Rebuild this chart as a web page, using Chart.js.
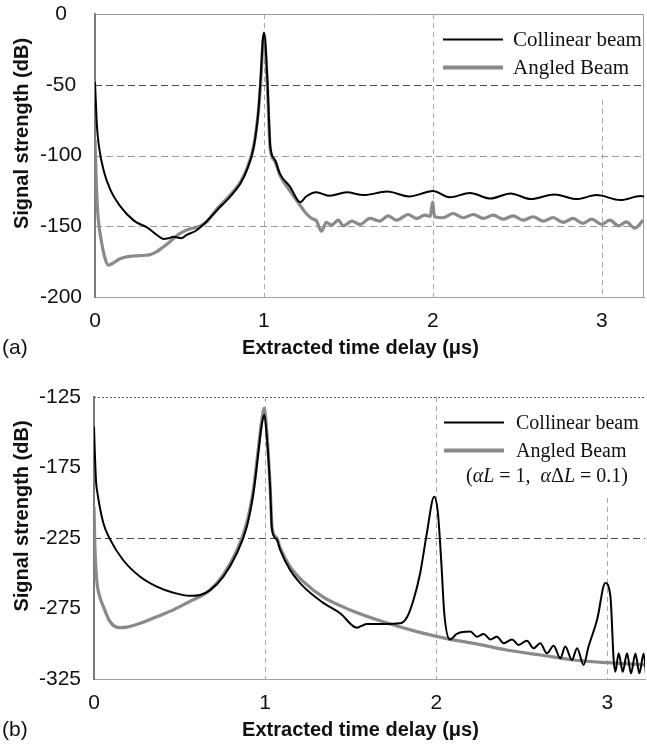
<!DOCTYPE html>
<html><head><meta charset="utf-8">
<script src="https://cdn.jsdelivr.net/npm/chart.js@4.4.1/dist/chart.umd.min.js"></script>
<style>
html,body{margin:0;padding:0;background:#fff;width:647px;height:744px;overflow:hidden;}
#wrapA{position:absolute;left:0;top:0;width:647px;height:362px;}
#wrapB{position:absolute;left:0;top:380px;width:647px;height:364px;}
</style></head><body>
<div id="wrapA"><canvas id="cA" width="647" height="362"></canvas></div>
<div id="wrapB"><canvas id="cB" width="647" height="364"></canvas></div>
<script>
// ---- text / ticks ----
const seriesNames = ['Collinear beam', 'Angled Beam'];
const xTitle = 'Extracted time delay (\u03bcs)';
const yTitle = 'Signal strength (dB)';
const panelLabels = ['(a)', '(b)'];
const xTicks = [0, 1, 2, 3];
const yTicksA = [0, -50, -100, -150, -200];
const yTicksB = [-125, -175, -225, -275, -325];
const noteB = [['(', false], ['\u03b1', true], ['L', true], [' = 1,  ', false], ['\u03b1', true], ['\u0394', false], ['L', true], [' = 0.1)', false]];

// ---- panel (a) data ----
const aCollinearT = [0, 0.012, 0.024, 0.05, 0.09, 0.15, 0.23, 0.31, 0.365, 0.405, 0.435, 0.465, 0.51, 0.545, 0.6, 0.64, 0.72, 0.8, 0.86, 0.9, 0.94, 0.967, 0.978, 1.0, 1.022, 1.03, 1.038, 1.065, 1.095, 1.154, 1.215, 1.25, 1.31, 1.39, 1.49, 1.59, 1.73, 1.86, 1.96, 2.0, 2.1, 2.22, 2.34, 2.46, 2.58, 2.72, 2.85, 2.97, 3.11, 3.23, 3.25];
const aCollinearDb = [-48, -80, -94, -110, -124, -136, -146, -151, -156, -159, -158.5, -157.5, -158.5, -156, -153, -149, -139, -129, -120, -110, -94, -69, -50, -13, -50, -75, -94, -103, -113, -122, -133, -129, -126, -128.5, -126, -128, -125.5, -129, -126, -125, -129.5, -126.5, -130.4, -126.8, -130.8, -127.5, -130.8, -128, -131.5, -128.7, -129];
const aAngledT = [0, 0.008, 0.016, 0.024, 0.04, 0.06, 0.079, 0.1, 0.148, 0.227, 0.3, 0.33, 0.365, 0.4, 0.444, 0.48, 0.52, 0.56, 0.62, 0.66, 0.72, 0.8, 0.86, 0.9, 0.94, 0.967, 0.98, 1.0, 1.02, 1.037, 1.065, 1.095, 1.154, 1.213, 1.25, 1.29, 1.31, 1.34, 1.37, 1.4, 1.44, 1.47, 1.52, 1.57, 1.627, 1.686, 1.736, 1.785, 1.854, 1.903, 1.953, 1.985, 1.998, 2.01, 2.06, 2.12, 2.18, 2.24, 2.298, 2.357, 2.416, 2.475, 2.534, 2.593, 2.653, 2.712, 2.771, 2.83, 2.889, 2.94, 3.0, 3.047, 3.1, 3.146, 3.195, 3.245];
const aAngledDb = [-89, -120, -140, -150, -162, -173, -177.5, -176.5, -173, -171, -170.5, -170, -168, -165, -161, -157, -154, -152, -150, -147, -138, -128, -119, -109, -93, -69, -50, -14, -50, -95, -104, -114, -125, -135, -141, -145, -146, -153.5, -147.3, -149.2, -145.7, -149.7, -146.4, -148.7, -144.5, -146.4, -142.6, -145.7, -141.7, -144.5, -142.2, -143, -133, -143.3, -144, -141, -144, -141.7, -144.5, -142.2, -145, -142.6, -145.7, -143.3, -146.4, -143.8, -147.3, -144.5, -148, -145, -148.7, -145.7, -149.7, -146.9, -151.3, -145.7];

// ---- panel (b) data ----
const bCollinearT = [0, 0.005, 0.012, 0.02, 0.055, 0.094, 0.17, 0.27, 0.367, 0.464, 0.56, 0.62, 0.678, 0.756, 0.834, 0.893, 0.932, 0.96, 0.98, 0.995, 1.013, 1.03, 1.04, 1.068, 1.088, 1.146, 1.224, 1.34, 1.44, 1.536, 1.56, 1.595, 1.69, 1.79, 1.83, 1.867, 1.906, 1.945, 1.988, 2.01, 2.03, 2.047, 2.08, 2.12, 2.199, 2.238, 2.277, 2.316, 2.355, 2.394, 2.443, 2.481, 2.53, 2.569, 2.608, 2.647, 2.686, 2.725, 2.754, 2.793, 2.823, 2.861, 2.89, 2.94, 2.988, 3.018, 3.037, 3.047, 3.066, 3.09, 3.115, 3.138, 3.164, 3.187, 3.212, 3.228];
const bCollinearDb = [-146, -165, -185, -193, -214.6, -226, -240.6, -252.5, -259.5, -263.8, -266, -265.4, -262, -252.4, -236, -217, -193, -165, -145, -137.5, -158, -191, -219, -226, -233.5, -247.7, -259.5, -271, -278.5, -288.6, -287.5, -286, -286, -285.5, -281, -269, -250, -221.7, -195.7, -207.5, -243, -278.5, -297, -293, -291.4, -295, -293.1, -296.9, -295, -299.7, -296.9, -300.9, -297.8, -303.2, -299.7, -306.8, -301.4, -310.3, -302, -311.5, -303.2, -315, -302, -283, -257, -266.6, -311.5, -319.8, -306.8, -319.8, -306.8, -321, -307, -321, -307, -324.5];
const bAngledT = [0, 0.005, 0.016, 0.03, 0.055, 0.094, 0.152, 0.2, 0.27, 0.367, 0.464, 0.56, 0.62, 0.678, 0.756, 0.834, 0.893, 0.932, 0.96, 0.98, 0.995, 1.013, 1.03, 1.04, 1.068, 1.088, 1.146, 1.224, 1.34, 1.497, 1.69, 1.887, 2.082, 2.218, 2.413, 2.608, 2.803, 2.998, 3.232];
const bAngledDb = [-203, -230, -255, -265, -273.7, -284.4, -288.6, -288, -285.5, -280.8, -276, -270, -266.6, -262, -251, -234, -214, -190, -162, -142, -133, -155, -190, -217, -225, -232, -245.3, -256, -267, -276, -284.4, -291.4, -296.9, -299.7, -304.4, -308, -311.5, -313.4, -315];

// ---- helpers ----
const FONT = '"Liberation Sans", Arial, sans-serif';
const SERIF = '"Liberation Serif", "Times New Roman", serif';
const GRAY = '#8a8a8a';
const pts = (t, v) => t.map((x, i) => ({x: x, y: v[i]}));

const panelCfg = {
  cA: {yTicks: yTicksA, hStyle: [null, ['#4a4a4a', 7, 4], ['#9a9a9a', 7, 4], ['#9a9a9a', 7, 4], null],
       frame: true, boxH: 65, vStart: 86, legendFont: 21, textOff: 131, note: null, label: panelLabels[0]},
  cB: {yTicks: yTicksB, hStyle: [['#555555', 2, 2], null, ['#4a4a4a', 7, 4], null, null],
       frame: false, boxH: 94, vStart: 101, legendFont: 20, textOff: 129, note: noteB, label: panelLabels[1]}
};

const decor = {
  id: 'decor',
  beforeDatasetsDraw(chart) {
    const o = panelCfg[chart.canvas.id];
    const {ctx, chartArea: a, scales: {x, y}} = chart;
    ctx.save();
    o.yTicks.forEach((v, i) => {
      const st = o.hStyle[i];
      if (!st) return;
      const py = Math.round(y.getPixelForValue(v)) + 0.5;
      ctx.strokeStyle = st[0]; ctx.lineWidth = 1; ctx.setLineDash([st[1], st[2]]);
      ctx.beginPath(); ctx.moveTo(a.left, py); ctx.lineTo(a.right, py); ctx.stroke();
    });
    ctx.fillStyle = '#fff';
    ctx.fillRect(a.right - 206, a.top + 1, 205, o.boxH);
    xTicks.forEach(v => {
      if (v === 0) return;
      const px = Math.round(x.getPixelForValue(v)) + 0.5;
      const y0 = px > a.right - 206 ? a.top + o.vStart : a.top;
      ctx.strokeStyle = '#a8a8a8'; ctx.lineWidth = 1; ctx.setLineDash([5, 4]);
      ctx.beginPath(); ctx.moveTo(px, y0); ctx.lineTo(px, a.bottom); ctx.stroke();
    });
    ctx.setLineDash([]);
    if (o.frame) {
      ctx.strokeStyle = '#9a9a9a'; ctx.lineWidth = 1;
      ctx.beginPath();
      ctx.moveTo(a.left, a.top + 0.5); ctx.lineTo(a.right - 0.5, a.top + 0.5); ctx.lineTo(a.right - 0.5, a.bottom);
      ctx.stroke();
    }
    ctx.restore();
  },
  afterDatasetsDraw(chart) {
    const o = panelCfg[chart.canvas.id];
    const {ctx, chartArea: a} = chart;
    ctx.save();
    const lx0 = a.right - 201, lx1 = a.right - 141;
    const ys = [a.top + 25.5, a.top + 53.5];
    const cols = ['#000', GRAY], wid = [2, 4];
    ctx.font = o.legendFont + 'px ' + SERIF;
    ctx.textBaseline = 'middle'; ctx.textAlign = 'left';
    for (let i = 0; i < 2; i++) {
      ctx.strokeStyle = cols[i]; ctx.lineWidth = wid[i];
      ctx.beginPath(); ctx.moveTo(lx0, ys[i]); ctx.lineTo(lx1, ys[i]); ctx.stroke();
      ctx.fillStyle = '#111';
      ctx.fillText(chart.data.datasets[i].label, a.right - o.textOff, ys[i] + 1);
    }
    if (o.note) {
      let px = a.right - 179;
      const py = a.top + 80;
      o.note.forEach(p => {
        ctx.font = (p[1] ? 'italic ' : '') + o.legendFont + 'px ' + SERIF;
        ctx.fillText(p[0], px, py);
        px += ctx.measureText(p[0]).width;
      });
    }
    ctx.restore();
  },
  afterDraw(chart) {
    const o = panelCfg[chart.canvas.id];
    const {ctx, chartArea: a} = chart;
    ctx.save();
    ctx.fillStyle = '#111';
    ctx.textBaseline = 'middle';
    ctx.font = 'bold 20px ' + FONT;
    ctx.textAlign = 'center';
    ctx.fillText(xTitle, (a.left + a.right) / 2 - 9, a.bottom + 51);
    ctx.save();
    ctx.translate(22, (a.top + a.bottom) / 2 - 22);
    ctx.rotate(-Math.PI / 2);
    ctx.fillText(yTitle, 0, 0);
    ctx.restore();
    ctx.font = '21px ' + FONT;
    ctx.textAlign = 'left';
    ctx.fillText(o.label, 2, a.bottom + 51);
    ctx.restore();
  }
};

function makeChart(id, cT, cV, aT, aV, yTicks, xmax, pad, yW) {
  return new Chart(document.getElementById(id), {
    type: 'line',
    data: {
      datasets: [
        {label: seriesNames[0], data: pts(cT, cV), borderColor: '#000', borderWidth: 2, pointRadius: 0, cubicInterpolationMode: 'monotone', order: 0},
        {label: seriesNames[1], data: pts(aT, aV), borderColor: GRAY, borderWidth: 3.2, pointRadius: 0, cubicInterpolationMode: 'monotone', order: 1}
      ]
    },
    options: {
      responsive: false, animation: false, devicePixelRatio: 1,
      layout: {padding: pad},
      plugins: {legend: {display: false}, tooltip: {enabled: false}},
      scales: {
        x: {
          type: 'linear', min: 0, max: xmax,
          afterBuildTicks: s => { s.ticks = xTicks.map(v => ({value: v})); },
          afterFit: s => { s.height = 65; s.paddingLeft = 0; s.paddingRight = 0; },
          grid: {display: false, drawTicks: false},
          border: {display: true, color: '#a0a0a0', width: 1},
          ticks: {padding: 12, maxRotation: 0, autoSkip: false, color: '#111', font: {size: 21, family: FONT}}
        },
        y: {
          type: 'linear', min: yTicks[yTicks.length - 1], max: yTicks[0],
          afterBuildTicks: s => { s.ticks = yTicks.slice().reverse().map(v => ({value: v})); },
          afterFit: s => { s.width = yW; s.paddingTop = 0; s.paddingBottom = 0; },
          grid: {display: false, drawTicks: false},
          border: {display: true, color: '#7a7a7a', width: 2},
          ticks: {padding: 13, crossAlign: 'center', autoSkip: false, color: '#111', font: {size: 21, family: FONT}}
        }
      }
    },
    plugins: [decor]
  });
}

makeChart('cA', aCollinearT, aCollinearDb, aAngledT, aAngledDb, yTicksA, 3.25, {top: 14, right: 3, left: 0, bottom: 0}, 95);
makeChart('cB', bCollinearT, bCollinearDb, bAngledT, bAngledDb, yTicksB, 3.22, {top: 17, right: 2, left: 0, bottom: 0}, 94);
</script>
</body></html>
